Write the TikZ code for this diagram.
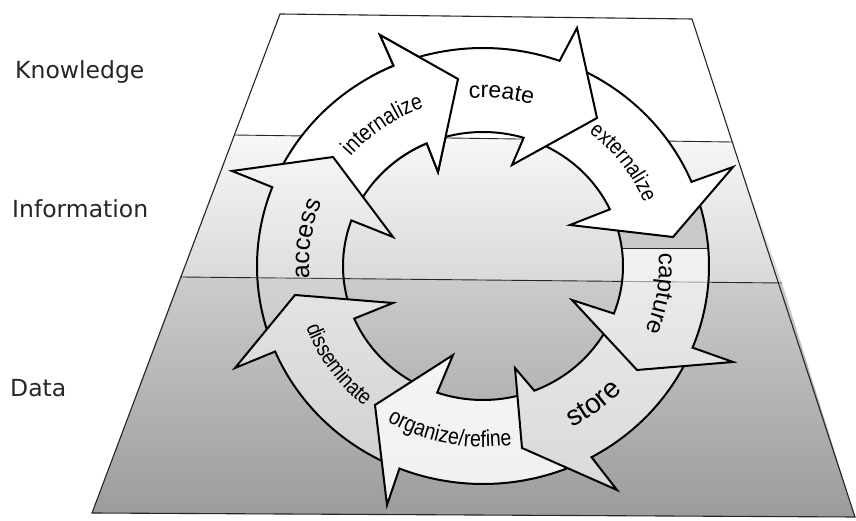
\documentclass[tikz,border=0pt]{standalone}
\usepackage{fontspec}
\setmainfont{Liberation Sans}
\newfontfamily\sidefont{DejaVu Sans}
\newfontfamily\arrowfont{Liberation Sans}
\newfontfamily\narrowfont[FakeStretch=0.85]{Liberation Sans}
\usetikzlibrary{decorations.text}
\definecolor{infotop}{gray}{0.97}
\definecolor{infobot}{gray}{0.85}
\definecolor{datatop}{gray}{0.80}
\definecolor{databot}{gray}{0.61}
\tikzset{
  arrowline/.style={line width=2pt, line join=miter, black},
  bandline/.style={line width=0.9pt, black!85},
  planeline/.style={line width=1.1pt, black!85},
  sidelabel/.style={font=\sidefont\fontsize{23.5}{28}\selectfont, anchor=base west, inner sep=0pt, text=black!85},
  ringlabel/.style={decorate, shift={(C)}},
}
\newcommand\bgplane{%
  \fill[white] (TL) -- (TR) -- (R1) -- (L1) -- cycle;
  \shade[top color=infotop, bottom color=infobot] (L1) -- (R1) -- (R2) -- (L2) -- cycle;
  \shade[top color=datatop, bottom color=databot] (L2) -- (R2) -- (BR) -- (BL) -- cycle;
  \draw[bandline] (L1) -- (R1);
  \draw[bandline] (L2) -- (R2);
}
% #1 previous outer notch angle, #2 outer notch angle, #3 outer barb, #4 tip,
% #5 inner barb, #6 inner notch angle, #7 previous inner notch angle,
% #8 see-through opacity, #9 extra shading inside the arrow
\newcommand\ringarrow[9]{%
  \begin{scope}
    \clip ([shift={(C)}]#1:226pt and 218pt) arc[start angle=#1, end angle=#2, x radius=226pt, y radius=218pt]
      -- #3 -- #4 -- #5 -- ([shift={(C)}]#6:140pt and 134pt)
      arc[start angle=#6, end angle=#7, x radius=140pt, y radius=134pt] -- cycle;
    \fill[white] (0,0) rectangle (856,521);
    \begin{scope}[opacity=#8]\bgplane\end{scope}
    #9
  \end{scope}
  \draw[arrowline] ([shift={(C)}]#1:226pt and 218pt) arc[start angle=#1, end angle=#2, x radius=226pt, y radius=218pt]
      -- #3 -- #4 -- #5 -- ([shift={(C)}]#6:140pt and 134pt)
      arc[start angle=#6, end angle=#7, x radius=140pt, y radius=134pt] -- cycle;
}
\begin{document}
\begin{tikzpicture}[x=1pt, y=1pt]
\useasboundingbox (0,0) rectangle (856,521);
\coordinate (C) at (483,255);
\coordinate (TL) at (280,507);
\coordinate (TR) at (692,502);
\coordinate (BR) at (855,4);
\coordinate (BL) at (92,8);
\coordinate (L1) at (234,386);
\coordinate (R1) at (732,379);
\coordinate (L2) at (180,244);
\coordinate (R2) at (782,238);

\bgplane
\draw[planeline, line join=miter] (TL) -- (TR) -- (BR) -- (BL) -- cycle;

% internalize
\ringarrow{158.8}{113.3}{(380,486)}{(458,442)}{(438,349)}{113.7}{160.1}{0}{}
% access
\ringarrow{-156.9}{-201.2}{(232,350)}{(333,364)}{(393,284)}{-199.9}{-156.9}{0.85}{}
% disseminate
\ringarrow{-111.7}{-156.9}{(235,153)}{(295,226)}{(393,218)}{-156.9}{-109.1}{0.5}{}
% organize/refine
\ringarrow{-61.3}{-111.7}{(387,16)}{(375,116)}{(453,166)}{-109.1}{-68.5}{0.15}{}
% store
\ringarrow{-22.0}{-61.3}{(617,31)}{(522,73)}{(515,153)}{-68.5}{-20.8}{0.4}{}
% capture
\ringarrow{22.7}{-22.0}{(733,159)}{(637,151)}{(572,221)}{-20.8}{25.0}{0.4}{%
  \fill[gray!42] (590,273) rectangle (730,330);
  \draw[bandline] (590,273) -- (730,273);}
% externalize
\ringarrow{70.2}{22.7}{(733,354)}{(673,284)}{(570,296)}{25.0}{73.1}{0}{}
% create
\ringarrow{113.3}{70.2}{(577,493)}{(597,403)}{(512,356)}{73.1}{113.7}{0}{}
% internalize head again, over the tail of create
\begin{scope}
  \clip (370,341) rectangle (470,501);
  \ringarrow{158.8}{113.3}{(380,486)}{(458,442)}{(438,349)}{113.7}{160.1}{0}{}
\end{scope}

% labels on the ring
\path[ringlabel, decoration={text along path, text align=center,
  text={|\narrowfont\fontsize{23}{23}\selectfont|internalize}}]
  (165:174pt and 168pt) arc[start angle=165, end angle=85, x radius=174pt, y radius=168pt];
\path[ringlabel, decoration={text along path, text align=center,
  text={|\arrowfont\fontsize{23}{23}\selectfont|create}}]
  (124:174pt and 168pt) arc[start angle=124, end angle=44, x radius=174pt, y radius=168pt];
\path[ringlabel, decoration={text along path, text align=center,
  text={|\narrowfont\fontsize{22}{22}\selectfont|externalize}}]
  (77:174pt and 168pt) arc[start angle=77, end angle=-3, x radius=174pt, y radius=168pt];
\path[ringlabel, decoration={text along path, text align=center,
  text={|\arrowfont\fontsize{24}{24}\selectfont|capture}}]
  (31:176pt and 170pt) arc[start angle=31, end angle=-49, x radius=176pt, y radius=170pt];
\path[ringlabel, decoration={text along path, text align=center,
  text={|\arrowfont\fontsize{28}{28}\selectfont|store}}]
  (-92:190pt and 183pt) arc[start angle=-92, end angle=-12, x radius=190pt, y radius=183pt];
\path[ringlabel, decoration={text along path, text align=center,
  text={|\narrowfont\fontsize{23}{23}\selectfont|organize/refine}}]
  (-141:188pt and 181pt) arc[start angle=-141, end angle=-61, x radius=188pt, y radius=181pt];
\path[ringlabel, decoration={text along path, text align=center,
  text={|\narrowfont\fontsize{22}{22}\selectfont|disseminate}}]
  (-185:188pt and 181pt) arc[start angle=-185, end angle=-105, x radius=188pt, y radius=181pt];
\path[ringlabel, decoration={text along path, text align=center,
  text={|\arrowfont\fontsize{25}{25}\selectfont|access}}]
  (-149:174pt and 168pt) arc[start angle=-149, end angle=-229, x radius=174pt, y radius=168pt];

% side labels
\node[sidelabel] (know) at (15,442) {Knowledge};
\node[sidelabel] (info) at (12,303) {Information};
\node[sidelabel] (data) at (10,124) {Data};
\end{tikzpicture}
\end{document}
